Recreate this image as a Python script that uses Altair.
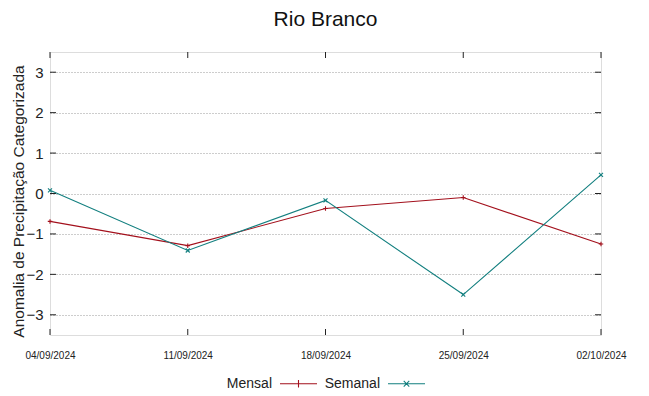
import altair as alt
import pandas as pd

dates = ["04/09/2024", "11/09/2024", "18/09/2024", "25/09/2024", "02/10/2024"]
mensal = [-0.69, -1.29, -0.37, -0.10, -1.25]
semanal = [0.08, -1.41, -0.17, -2.50, 0.46]
y_ticks = [-3, -2, -1, 0, 1, 2, 3]
series_names = ["Mensal", "Semanal"]
series_colors = ["#a3101c", "#127f7f"]

rows = []
for d, m, s in zip(dates, mensal, semanal):
    rows.append({"date": d, "series": "Mensal", "value": m})
    rows.append({"date": d, "series": "Semanal", "value": s})
df = pd.DataFrame(rows)
ticks_df = pd.DataFrame({"v": y_ticks})
dates_df = pd.DataFrame({"date": dates})

W, H = 551, 283
REG = "Liberation Sans, Arial"

xscale = alt.Scale(type="point", domain=dates, padding=0)
yscale = alt.Scale(domain=[-3.5, 3.5], nice=False, zero=False)
cscale = alt.Scale(domain=series_names, range=series_colors)

PLUS = "M-1,0L1,0M0,-1L0,1"
XSHAPE = "M-1,-1L1,1M-1,1L1,-1"
LEG_PLUS = "M-1,0L1,0M0,-0.2L0,0.2"
LEG_X = "M-1,0L1,0M-0.15,-0.15L0.15,0.15M-0.15,0.15L0.15,-0.15"

xenc = alt.X("date:O", scale=xscale, sort=dates,
             axis=alt.Axis(title=None, labelAngle=0, labelAlign="center", labelBaseline="middle",
                           labelFont=REG, labelFontSize=10,
                           labelColor="#222", labelPadding=20, tickSize=0, domain=False,
                           grid=False, labelFlush=False, labelOverlap=False, labelBound=False))
yenc = alt.Y("value:Q", scale=yscale,
             axis=alt.Axis(values=y_ticks, title="Anomalia de Precipitação Categorizada",
                           titleFont=REG, titleFontSize=15.5, titleFontWeight="normal",
                           titleColor="#222", titleX=-24, titleY=149,
                           labelFont=REG, labelFontSize=15, labelColor="#222",
                           labelPadding=7, tickSize=0, domain=False,
                           grid=True, gridColor="#9a9a9a", gridDash=[1, 2], gridWidth=1))

lines = alt.Chart(df).mark_line(strokeWidth=1.1).encode(
    x=xenc, y=yenc, color=alt.Color("series:N", scale=cscale))

# invisible layer that only carries the legend (line + marker symbols)
leg = alt.Chart(df).mark_point(opacity=0, filled=False, strokeWidth=1.1).encode(
    x=alt.X("date:O", scale=xscale, sort=dates),
    y=alt.Y("value:Q", scale=yscale),
    color=alt.Color("series:N", scale=cscale,
                    legend=alt.Legend(
                        title=None, orient="none", direction="horizontal",
                        legendX=229, legendY=312,
                        labelFont=REG, labelFontSize=14, labelColor="#222",
                        labelAlign="right", labelOffset={"expr": "-46"},
                        symbolSize=1369, symbolStrokeWidth=1.1, symbolOpacity=1,
                        columnPadding=4)),
    shape=alt.Shape("series:N", scale=alt.Scale(domain=series_names, range=[LEG_PLUS, LEG_X])),
)

pts_m = alt.Chart(df[df.series == "Mensal"]).mark_point(
    shape=PLUS, filled=False, size=20, strokeWidth=1.1, opacity=1
).encode(
    x=alt.X("date:O", scale=xscale, sort=dates),
    y=alt.Y("value:Q", scale=yscale),
    color=alt.Color("series:N", scale=cscale),
)
pts_s = alt.Chart(df[df.series == "Semanal"]).mark_point(
    shape=XSHAPE, filled=False, size=16, strokeWidth=1.1, opacity=1
).encode(
    x=alt.X("date:O", scale=xscale, sort=dates),
    y=alt.Y("value:Q", scale=yscale),
    color=alt.Color("series:N", scale=cscale),
)

tick_col = "#222"
lt = alt.Chart(ticks_df).mark_rule(color=tick_col, strokeWidth=1).encode(
    y=alt.Y("v:Q", scale=yscale), x=alt.value(0), x2=alt.value(6))
rt = alt.Chart(ticks_df).mark_rule(color=tick_col, strokeWidth=1).encode(
    y=alt.Y("v:Q", scale=yscale), x=alt.value(W - 6), x2=alt.value(W))
bt = alt.Chart(dates_df).mark_rule(color=tick_col, strokeWidth=1).encode(
    x=alt.X("date:O", scale=xscale, sort=dates), y=alt.value(H - 6), y2=alt.value(H))
tt = alt.Chart(dates_df).mark_rule(color=tick_col, strokeWidth=1).encode(
    x=alt.X("date:O", scale=xscale, sort=dates), y=alt.value(0), y2=alt.value(6))

chart = alt.layer(lt, rt, bt, tt, lines, pts_m, pts_s, leg).properties(
    width=W, height=H,
    title=alt.TitleParams("Rio Branco", font=REG, fontSize=21, fontWeight="normal",
                          color="#111", anchor="middle", offset=22),
    autosize=alt.AutoSizeParams(type="none"),
    padding={"left": 42, "top": 44, "right": 40, "bottom": 60},
).configure_view(stroke="#555", strokeWidth=1.5).configure(background="white")

chart.save("out.html", embed_options={"renderer": "svg", "actions": False})
